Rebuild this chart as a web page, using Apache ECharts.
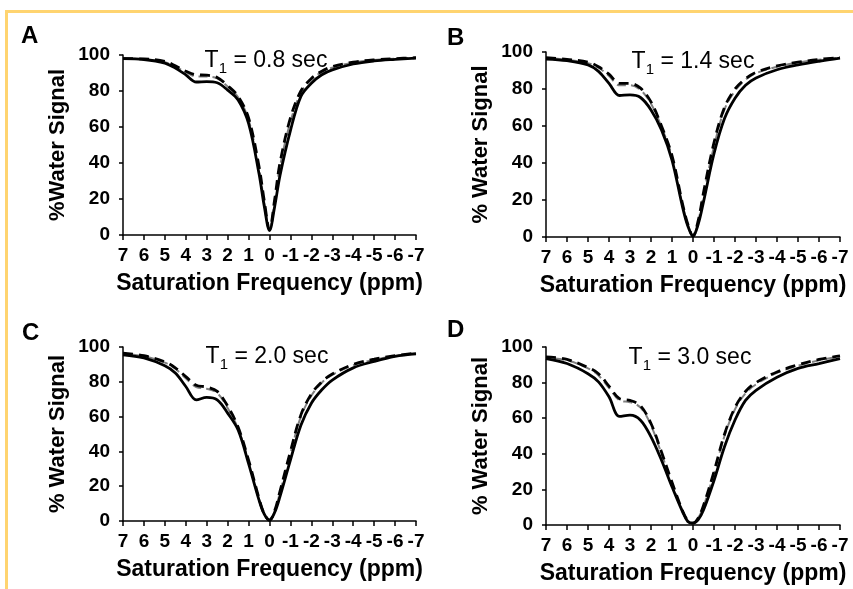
<!DOCTYPE html>
<html>
<head>
<meta charset="utf-8">
<script src="https://cdn.jsdelivr.net/npm/echarts@6/dist/echarts.min.js"></script>
<style>
html,body{margin:0;padding:0;background:#fff;}
#main{width:853px;height:589px;}
</style>
</head>
<body>
<div id="main"></div>
<script>
// Saturation frequency (ppm)
const freq = [7, 6, 5, 4.5, 4, 3.5, 3, 2.5, 2, 1.5, 1, 0.5, 0.25, 0, -0.25, -0.5, -1, -1.5, -2, -2.5, -3, -4, -5, -6, -7];
const xTicks = ['7','6','5','4','3','2','1','0','-1','-2','-3','-4','-5','-6','-7'];
const panelLetters = ['A', 'B', 'C', 'D'];
const t1Values = ['0.8', '1.4', '2.0', '3.0'];
const yNames = ['%Water Signal', '% Water Signal', '% Water Signal', '% Water Signal'];

// Panel A (T1 = 0.8 s)
const aSolid  = [98, 97.5, 95.5, 92.7, 89, 85, 85.2, 84.6, 80.5, 75, 62, 34, 16, 2.5, 16, 33, 58, 77, 84.3, 89, 91.7, 95, 96.7, 97.6, 98.3];
const aDashed = [98, 97.8, 96.5, 94, 91, 89, 88.8, 87.5, 83, 77, 65, 38, 19, 3, 20, 40, 65, 80, 87, 91, 93.5, 96, 97.3, 98, 98.5];
const aGray   = [98, 97.5, 96, 93.5, 90.5, 88, 88, 87, 82.5, 76.5, 64, 37, 18, 3, 19, 38, 63, 79, 86.5, 90.5, 93, 95.8, 97.2, 98, 98.5];
// Panel B (T1 = 1.4 s)
const bSolid  = [96.2, 95.3, 93, 89.5, 83, 76.5, 76.8, 75.4, 68.7, 57.9, 41.6, 16.3, 6, 0.5, 7, 19, 45, 64, 75, 82, 86, 90.4, 93, 95, 96.7];
const bDashed = [97, 96, 94.5, 92, 88, 83, 83, 80.5, 73, 60, 44, 18, 7, 0.5, 9, 24, 51, 70, 80, 85.5, 89, 92.5, 94.5, 96, 97];
const bGray   = [96.8, 95.8, 94, 91.5, 87, 82, 82, 79.5, 72, 59.5, 43.5, 17.5, 7, 0.5, 8.5, 23, 49, 69, 79, 85, 88.5, 92, 94.3, 95.8, 97];
// Panel C (T1 = 2.0 s)
const cSolid  = [95.5, 93.7, 89.2, 85, 77.3, 69.6, 71, 69.6, 62, 52.3, 33, 12, 4, 0.5, 5, 14, 35, 55, 67.7, 75.4, 81, 88, 91.7, 94.6, 96];
const cDashed = [96.5, 95, 91.5, 88, 83, 78, 77, 74.5, 66, 54, 35, 13, 4, 0.5, 6, 17, 40, 61, 73, 80, 84.5, 90, 93, 95, 96.5];
const cGray   = [96.3, 94.7, 91, 87.5, 82, 77, 76, 73.5, 65, 53, 34.5, 12.5, 4, 0.5, 5.5, 16.5, 39, 60, 72, 79.5, 84, 89.5, 92.7, 94.8, 96.5];
// Panel D (T1 = 3.0 s)
const dSolid  = [93.5, 90.7, 85, 80.4, 72, 61, 61.7, 58.9, 49.5, 36.4, 21.5, 7.5, 2, 1, 3, 8.4, 25, 44, 59, 70, 75.7, 83, 88, 90.7, 93.5];
const dDashed = [94.5, 93, 88.5, 85, 78, 71, 70, 67, 57, 41, 24, 8, 2.5, 1, 4, 11, 30, 51, 66, 75, 80, 86, 90, 93, 95];
const dGray   = [94, 92.5, 88, 84, 77, 70, 69, 66, 56, 40, 23.5, 8, 2.5, 1, 4, 10.5, 29, 50, 65, 74, 79, 85.5, 89.5, 92.5, 94.8];

const panels = [
  {solid: aSolid, dashed: aDashed, gray: aGray},
  {solid: bSolid, dashed: bDashed, gray: bGray},
  {solid: cSolid, dashed: cDashed, gray: cGray},
  {solid: dSolid, dashed: dDashed, gray: dGray}
];

// layout
const grids = [
  {left: 123, top: 55, width: 293, height: 180},
  {left: 546, top: 52, width: 294, height: 185},
  {left: 123, top: 347, width: 293, height: 174},
  {left: 546, top: 347, width: 294, height: 178}
];
const letterPos = [[21, 36], [447, 38], [22, 333], [447, 330]];
const titlePos = [[266, 61], [693, 62], [267, 357], [690, 358]];

const FONT = '"Liberation Sans", Arial, sans-serif';
const pair = (ys) => freq.map((x, i) => [x, ys[i]]);

const xAxes = [], yAxes = [], series = [], graphics = [];
grids.forEach((g, i) => {
  xAxes.push({
    gridIndex: i, type: 'value', min: -7, max: 7, interval: 1, inverse: true,
    axisLine: {show: true, onZero: false, lineStyle: {color: '#000', width: 1.5}},
    axisTick: {show: true, inside: false, length: 5, lineStyle: {color: '#000', width: 1.5}},
    splitLine: {show: false},
    axisLabel: {
      color: '#000', fontFamily: FONT, fontWeight: 'bold', fontSize: 19, margin: 11,
      formatter: (v) => xTicks[7 - v]
    },
    name: 'Saturation Frequency (ppm)', nameLocation: 'middle', nameGap: 37,
    nameTextStyle: {color: '#000', fontFamily: FONT, fontWeight: 'bold', fontSize: 23}
  });
  yAxes.push({
    gridIndex: i, type: 'value', min: 0, max: 100, interval: 20,
    axisLine: {show: true, onZero: false, lineStyle: {color: '#000', width: 1.5}},
    axisTick: {show: true, inside: false, length: 4, lineStyle: {color: '#000', width: 1.5}},
    splitLine: {show: false},
    axisLabel: {color: '#000', fontFamily: FONT, fontWeight: 'bold', fontSize: 19, margin: 13},
    name: yNames[i], nameLocation: 'middle', nameGap: 54,
    nameTextStyle: {color: '#000', fontFamily: FONT, fontWeight: 'bold', fontSize: 22}
  });
  const p = panels[i];
  series.push({
    type: 'line', xAxisIndex: i, yAxisIndex: i, data: pair(p.gray), smooth: 0.35,
    symbol: 'none', lineStyle: {color: '#808080', width: 2, type: [9, 5], dashOffset: 5}, z: 2
  });
  series.push({
    type: 'line', xAxisIndex: i, yAxisIndex: i, data: pair(p.dashed), smooth: 0.35,
    symbol: 'none', lineStyle: {color: '#000', width: 2.8, type: [10, 6]}, z: 3
  });
  series.push({
    type: 'line', xAxisIndex: i, yAxisIndex: i, data: pair(p.solid), smooth: 0.35,
    symbol: 'none', lineStyle: {color: '#000', width: 2.8}, z: 4
  });
  graphics.push({
    type: 'text', left: letterPos[i][0], top: letterPos[i][1] - 12,
    style: {text: panelLetters[i], fill: '#000', font: 'bold 24px ' + FONT}
  });
  graphics.push({
    type: 'text', x: titlePos[i][0], y: titlePos[i][1],
    style: {
      text: '{a|T}{b|1}{a| = ' + t1Values[i] + ' sec}',
      align: 'center', verticalAlign: 'middle',
      rich: {
        a: {fontFamily: FONT, fontSize: 23, lineHeight: 31, fill: '#000', color: '#000'},
        b: {fontFamily: FONT, fontSize: 15, lineHeight: 15, verticalAlign: 'bottom', fill: '#000', color: '#000'}
      }
    }
  });
});

// yellow frame lines
graphics.push({type: 'rect', shape: {x: 5, y: 10, width: 848, height: 3}, style: {fill: '#ffd470'}});
graphics.push({type: 'rect', shape: {x: 5, y: 10, width: 3, height: 579}, style: {fill: '#ffd470'}});

const chart = echarts.init(document.getElementById('main'), null, {renderer: 'canvas'});
chart.setOption({
  animation: false,
  backgroundColor: '#fff',
  grid: grids.map(g => Object.assign({containLabel: false}, g)),
  xAxis: xAxes,
  yAxis: yAxes,
  series: series,
  graphic: graphics
});
</script>
</body>
</html>
